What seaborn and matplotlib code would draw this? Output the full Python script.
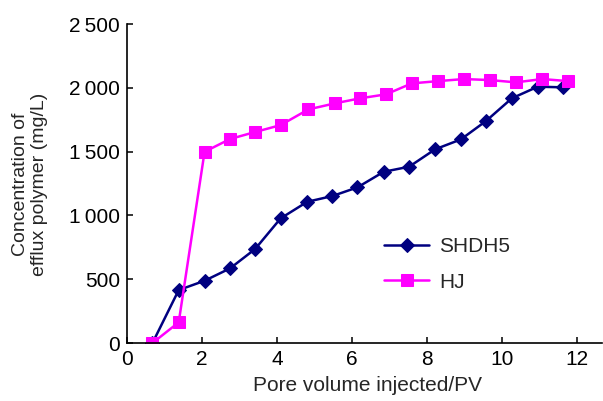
import numpy as np
import pandas as pd
import matplotlib
matplotlib.use('Agg')
import matplotlib.pyplot as plt
import seaborn as sns
from matplotlib.ticker import FuncFormatter, MultipleLocator

# values
pv_shdh5 = [0.68, 1.38, 2.07, 2.75, 3.42, 4.10, 4.81, 5.48, 6.15, 6.85,
            7.53, 8.22, 8.91, 9.58, 10.27, 10.96, 11.64]
conc_shdh5 = [0, 415, 488, 585, 737, 977, 1107, 1152, 1220, 1342,
              1382, 1518, 1596, 1740, 1918, 2009, 2004]

pv_hj = [0.68, 1.38, 2.07, 2.75, 3.42, 4.10, 4.84, 5.54, 6.22, 6.91,
         7.60, 8.31, 8.99, 9.69, 10.38, 11.08, 11.76]
conc_hj = [0, 162, 1499, 1599, 1654, 1708, 1831, 1878, 1918, 1949,
           2035, 2053, 2069, 2061, 2043, 2069, 2053]

sns.set_style('ticks')
plt.rcParams['font.family'] = ['Liberation Sans', 'DejaVu Sans']
plt.rcParams['font.size'] = 15

fig = plt.figure(figsize=(6.03, 4.01), dpi=100)
ax = fig.add_axes([0.2106, 0.1446, 0.7874, 0.7954])

sns.lineplot(x=pv_shdh5, y=conc_shdh5, ax=ax, color='#000080', linewidth=1.8,
             marker='D', markersize=7.5, markeredgecolor='#000080', label='SHDH5')
sns.lineplot(x=pv_hj, y=conc_hj, ax=ax, color='#ff00ff', linewidth=1.8,
             marker='s', markersize=8, markeredgecolor='#ff00ff', label='HJ')

ax.set_xlim(0, 12.67)
ax.set_ylim(0, 2500)
ax.xaxis.set_major_locator(MultipleLocator(2))
ax.yaxis.set_major_locator(MultipleLocator(500))
ax.yaxis.set_major_formatter(FuncFormatter(
    lambda v, p: f'{int(v):,}'.replace(',', '\u2009')))

for s in ['top', 'right']:
    ax.spines[s].set_visible(False)
for s in ['left', 'bottom']:
    ax.spines[s].set_linewidth(1.2)
    ax.spines[s].set_color('black')
ax.tick_params(direction='in', length=4, width=1.1, colors='black', pad=5)

ax.set_xlabel('Pore volume injected/PV', va='top')
ax.xaxis.set_label_coords(0.507, -0.103)
ax.set_ylabel('Concentration of\nefflux polymer (mg/L)', va='center',
              ha='center', fontsize=14)
ax.yaxis.set_label_coords(-0.204, 0.498)

leg = ax.legend(loc='upper left', bbox_to_anchor=(0.524, 0.357), frameon=False,
                handlelength=2.15, handletextpad=0.5, labelspacing=0.78,
                borderaxespad=0)

fig.savefig('out.png', dpi=100)
